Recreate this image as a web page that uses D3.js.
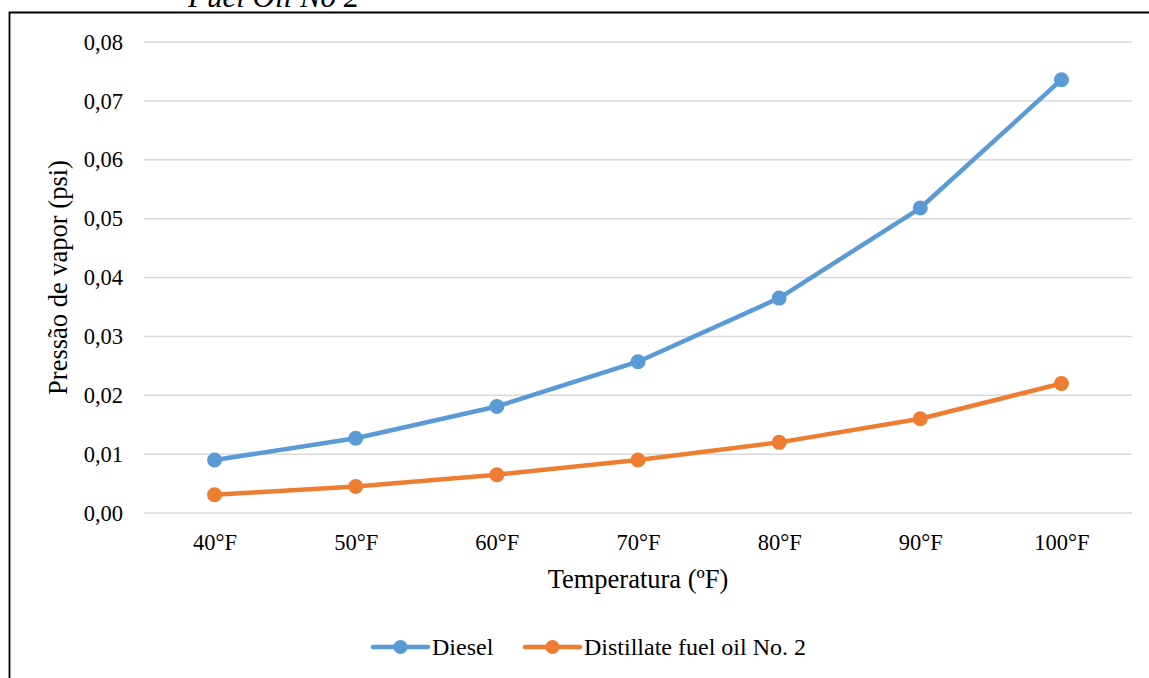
<!DOCTYPE html>
<html>
<head>
<meta charset="utf-8">
<script src="https://cdn.jsdelivr.net/npm/d3@7"></script>
<style>
  body { margin: 0; background: #fff; }
  text { font-family: "Liberation Serif", "Times New Roman", serif; fill: #000; }
</style>
</head>
<body>
<div id="chart"></div>
<script>
var categories = ["40°F", "50°F", "60°F", "70°F", "80°F", "90°F", "100°F"];
var dieselValues = [0.0090, 0.0127, 0.0181, 0.0257, 0.0365, 0.0518, 0.0736];
var distillateValues = [0.0031, 0.0045, 0.0065, 0.0090, 0.0120, 0.0160, 0.0220];
var yTicks = [0, 0.01, 0.02, 0.03, 0.04, 0.05, 0.06, 0.07, 0.08];
var seriesNames = ["Diesel", "Distillate fuel oil No. 2"];
var colors = ["#5B9BD5", "#ED7D31"];

var width = 1149, height = 678;
var margin = {top: 42, right: 17, bottom: 165, left: 144};
var innerWidth = width - margin.left - margin.right,
    innerHeight = height - margin.top - margin.bottom;

var svg = d3.select("#chart").append("svg")
    .attr("width", width)
    .attr("height", height);

// frame of the figure (right / bottom sides fall outside the crop)
svg.append("path")
    .attr("d", "M9.5,690 L9.5,12.5 L1160,12.5")
    .attr("fill", "none")
    .attr("stroke", "#000")
    .attr("stroke-width", 1.8);

// caption above the frame, cut by the top edge
svg.append("text")
    .attr("x", 188)
    .attr("y", 7)
    .attr("font-size", 31)
    .attr("font-style", "italic")
    .text("Fuel Oil No 2");

var g = svg.append("g")
    .attr("transform", "translate(" + margin.left + "," + margin.top + ")");

var xScale = d3.scalePoint().domain(categories).range([0, innerWidth]).padding(0.5);
var yScale = d3.scaleLinear().domain([0, 0.08]).range([innerHeight, 0]);

// gridlines
g.append("g").selectAll("line")
    .data(yTicks)
  .enter().append("line")
    .attr("x1", 0)
    .attr("x2", innerWidth)
    .attr("y1", function(d) { return yScale(d); })
    .attr("y2", function(d) { return yScale(d); })
    .attr("stroke", "#D9D9D9")
    .attr("stroke-width", 1.5);

var fmt = function(d) { return d3.format(".2f")(d).replace(".", ","); };

var yAxis = g.append("g")
    .call(d3.axisLeft(yScale).tickValues(yTicks).tickFormat(fmt).tickSize(0).tickPadding(21));
yAxis.select(".domain").remove();
yAxis.selectAll("text")
    .attr("font-size", 22.5)
    .attr("font-family", "Liberation Serif, serif");

var xAxis = g.append("g")
    .attr("transform", "translate(0," + innerHeight + ")")
    .call(d3.axisBottom(xScale).tickSize(0).tickPadding(21));
xAxis.select(".domain").remove();
xAxis.selectAll("text")
    .attr("font-size", 22.5)
    .attr("font-family", "Liberation Serif, serif");

// axis titles
svg.append("text")
    .attr("transform", "translate(67," + (margin.top + innerHeight / 2) + ") rotate(-90)")
    .attr("text-anchor", "middle")
    .attr("font-size", 26.5)
    .text("Pressão de vapor (psi)");

svg.append("text")
    .attr("x", margin.left + innerWidth / 2)
    .attr("y", 588)
    .attr("text-anchor", "middle")
    .attr("font-size", 26.5)
    .text("Temperatura (ºF)");

// series
var seriesData = [dieselValues, distillateValues];
var line = d3.line()
    .x(function(d, i) { return xScale(categories[i]); })
    .y(function(d) { return yScale(d); });

seriesData.forEach(function(values, s) {
  g.append("path")
      .datum(values)
      .attr("fill", "none")
      .attr("stroke", colors[s])
      .attr("stroke-width", 4.5)
      .attr("stroke-linejoin", "round")
      .attr("d", line);

  g.selectAll(".dot" + s)
      .data(values)
    .enter().append("circle")
      .attr("class", "dot" + s)
      .attr("cx", function(d, i) { return xScale(categories[i]); })
      .attr("cy", function(d) { return yScale(d); })
      .attr("r", 7.5)
      .attr("fill", colors[s]);
});

// legend
var legendX = [373, 525];
var legend = svg.append("g");
seriesNames.forEach(function(name, s) {
  var lg = legend.append("g").attr("transform", "translate(" + legendX[s] + ",647)");
  lg.append("line")
      .attr("x1", 0).attr("x2", 55)
      .attr("stroke", colors[s])
      .attr("stroke-width", 4.5)
      .attr("stroke-linecap", "round");
  lg.append("circle")
      .attr("cx", 27.5)
      .attr("r", 7)
      .attr("fill", colors[s]);
  lg.append("text")
      .attr("x", 59)
      .attr("y", 8)
      .attr("font-size", 24)
      .text(name);
});
</script>
</body>
</html>
